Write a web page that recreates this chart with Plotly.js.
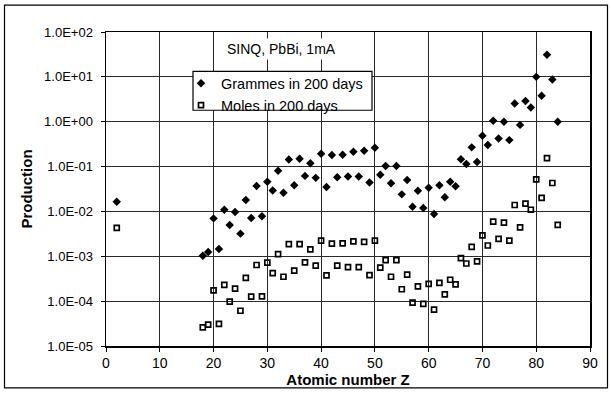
<!DOCTYPE html>
<html>
<head>
<meta charset="utf-8">
<script src="https://cdn.plot.ly/plotly-3.0.1.min.js"></script>
<style>
html,body{margin:0;padding:0;background:#fff;}
#chart{width:611px;height:394px;}
</style>
</head>
<body>
<div id="chart"></div>
<script>
// Atomic number Z
var zValues = [2,18,19,20,21,22,23,24,25,26,27,28,29,30,31,32,33,34,35,36,37,38,39,40,41,42,43,44,45,46,47,48,49,50,51,52,53,54,55,56,57,58,59,60,61,62,63,64,65,66,67,68,69,70,71,72,73,74,75,76,77,78,79,80,81,82,83,84];

var grammes = [1.64e-2,1.03e-3,1.24e-3,7.0e-3,1.45e-3,1.09e-2,5.0e-3,9.7e-3,3.2e-3,1.79e-2,7.1e-3,3.7e-2,7.8e-3,4.6e-2,2.94e-2,8.1e-2,2.6e-2,0.143,3.85e-2,0.150,6.2e-2,0.118,5.6e-2,0.194,3.5e-2,0.181,5.8e-2,0.184,6.0e-2,0.215,6.0e-2,0.226,4.4e-2,0.264,6.6e-2,0.103,4.27e-2,0.103,2.4e-2,5.0e-2,1.27e-2,2.88e-2,1.19e-2,3.36e-2,8.8e-3,3.85e-2,2.06e-2,4.6e-2,3.66e-2,0.145,0.114,0.268,0.126,0.486,0.301,1.05,0.424,1.0,0.389,2.54,0.85,2.9,2.07,10,3.8,31,8.7,1.0];

var moles = [4.3e-3,2.6e-5,3.0e-5,1.74e-4,3.1e-5,2.3e-4,9.8e-5,1.9e-4,6.1e-5,3.3e-4,1.26e-4,6.4e-4,1.28e-4,7.2e-4,4.2e-4,1.12e-3,3.5e-4,1.87e-3,4.8e-4,1.87e-3,7.3e-4,1.42e-3,6.2e-4,2.24e-3,3.75e-4,1.92e-3,6.2e-4,1.94e-3,5.75e-4,2.14e-3,5.75e-4,2.1e-3,3.8e-4,2.24e-3,5.6e-4,8.2e-4,3.5e-4,8.2e-4,1.84e-4,3.9e-4,9.3e-5,2.14e-4,8.7e-5,2.42e-4,6.5e-5,2.55e-4,1.42e-4,3.0e-4,2.37e-4,9.1e-4,6.9e-4,1.62e-3,7.7e-4,2.94e-3,1.74e-3,5.9e-3,2.44e-3,5.6e-3,2.24e-3,1.39e-2,4.4e-3,1.5e-2,1.09e-2,5.2e-2,2.0e-2,0.155,4.3e-2,5.0e-3];

var seriesNames = ["Grammes in 200 days", "Moles in 200 days"];
var yTickVals = [1e-5,1e-4,1e-3,1e-2,1e-1,1e0,1e1,1e2];
var yTickText = ["1.0E-05","1.0E-04","1.0E-03","1.0E-02","1.0E-01","1.0E+00","1.0E+01","1.0E+02"];
var xTickVals = [0,10,20,30,40,50,60,70,80,90];
var noteText = "SINQ, PbBi, 1mA";

var FONT = "Liberation Sans, Arial, Helvetica, sans-serif";

var traces = [
  {
    x: zValues, y: grammes, name: seriesNames[0],
    type: "scatter", mode: "markers",
    marker: {symbol: "diamond", size: 6.5, color: "#000"}
  },
  {
    x: zValues, y: moles, name: seriesNames[1],
    type: "scatter", mode: "markers",
    marker: {symbol: "square-open", size: 5, color: "#000", line: {width: 1.7, color: "#000"}}
  }
];

// paper coordinates helpers for frame / legend box (plot area 106..590 x, 31.5..346.5 y)
function px(v){ return (v - 106) / 484; }
function py(v){ return (346.5 - v) / 315; }

var layout = {
  width: 611, height: 394,
  margin: {l: 106, r: 21, t: 31.5, b: 47.5},
  paper_bgcolor: "#fff", plot_bgcolor: "#fff",
  font: {family: FONT, color: "#000"},
  showlegend: true,
  legend: {
    x: px(181), y: py(67), xanchor: "left", yanchor: "top",
    bgcolor: "rgba(0,0,0,0)", borderwidth: 0,
    font: {family: FONT, size: 14.5, color: "#000"},
    itemwidth: 30, tracegroupgap: 0
  },
  xaxis: {
    range: [0, 90], tickvals: xTickVals, ticktext: xTickVals.map(String),
    showgrid: true, gridcolor: "#2a2a2a", gridwidth: 1,
    showline: true, linecolor: "#000", linewidth: 1.5, mirror: true,
    ticks: "outside", ticklen: 4, tickcolor: "#000",
    tickfont: {family: FONT, size: 14, color: "#000"},
    zeroline: false,
    title: {text: "Atomic number Z", font: {family: FONT, size: 15, color: "#000", weight: "bold"}, standoff: 2}
  },
  yaxis: {
    type: "log", range: [-5, 2],
    tickvals: yTickVals, ticktext: yTickText,
    showgrid: true, gridcolor: "#2a2a2a", gridwidth: 1,
    showline: true, linecolor: "#000", linewidth: 1.5, mirror: true,
    ticks: "outside", ticklen: 4, tickcolor: "#000",
    ticklabelstandoff: 5,
    tickfont: {family: FONT, size: 13, color: "#000"},
    zeroline: false,
    title: {text: "Production", font: {family: FONT, size: 15, color: "#000", weight: "bold"}, standoff: 8}
  },
  annotations: [
    {
      xref: "paper", yref: "paper", x: px(224), y: py(49),
      xanchor: "left", yanchor: "middle",
      text: noteText, showarrow: false,
      bgcolor: "#fff", borderpad: 2,
      font: {family: FONT, size: 14, color: "#000"}
    }
  ],
  shapes: [
    // legend box (white, covers the grid) drawn above the data, legend text on top
    {type: "rect", xref: "paper", yref: "paper", layer: "above",
     x0: px(193), x1: px(372), y0: py(110), y1: py(71),
     fillcolor: "#fff", line: {color: "#000", width: 1.2}},
    // outer frame around the whole chart
    {type: "rect", xref: "paper", yref: "paper", layer: "below",
     x0: px(4.5), x1: px(607.5), y0: py(388.5), y1: py(4.5),
     fillcolor: "rgba(0,0,0,0)", line: {color: "#000", width: 1.2}}
  ]
};

Plotly.newPlot("chart", traces, layout, {staticPlot: true, displayModeBar: false});
</script>
</body>
</html>
